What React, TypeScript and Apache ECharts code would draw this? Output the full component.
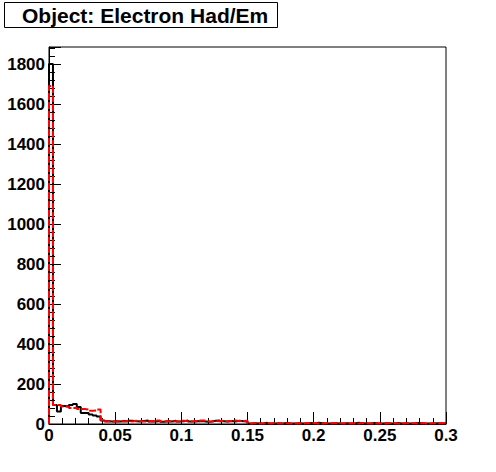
import React, { useEffect, useRef } from "react";
import * as echarts from "echarts";

const title = "Object: Electron Had/Em";
const xMin = 0;
const xMax = 0.3;
const binCount = 100;

const blackCounts = [
  1800, 95, 62, 90, 88, 95, 100, 85, 55, 55,
  48, 42, 38, 18, 14, 12, 14, 13, 15, 12,
  16, 14, 12, 15, 17, 13, 12, 15, 11, 14,
  13, 16, 12, 14, 17, 13, 12, 15, 14, 11,
  13, 16, 18, 14, 12, 15, 13, 16, 14, 12,
  3, 4, 2, 3, 6, 2, 3, 4, 2, 5,
  3, 2, 4, 3, 2, 5, 3, 6, 4, 2,
  3, 5, 2, 3, 4, 2, 3, 6, 4, 2,
  3, 5, 3, 2, 4, 3, 2, 5, 3, 4,
  2, 3, 5, 4, 2, 3, 2, 4, 3, 2,
];

const redCounts = [
  1690, 95, 95, 88, 86, 80, 80, 75, 75, 72,
  66, 68, 72, 20, 13, 11, 13, 14, 12, 15,
  13, 16, 14, 12, 14, 15, 13, 17, 12, 14,
  15, 13, 12, 16, 14, 13, 15, 12, 17, 14,
  13, 15, 14, 16, 13, 15, 17, 14, 15, 16,
  3, 4, 3, 2, 4, 3, 5, 3, 2, 4,
  3, 3, 4, 2, 5, 3, 4, 3, 2, 4,
  3, 5, 4, 3, 2, 4, 3, 3, 5, 4,
  3, 2, 4, 3, 3, 5, 4, 3, 2, 4,
  3, 4, 3, 5, 3, 2, 4, 3, 5, 3,
];

function stepPoints(counts: number[]) {
  const w = (xMax - xMin) / binCount;
  const pts: number[][] = [[xMin, 0]];
  counts.forEach((v, i) => {
    pts.push([xMin + i * w, v]);
    pts.push([xMin + (i + 1) * w, v]);
  });
  pts.push([xMax, 0]);
  return pts;
}

export default function App() {
  const ref = useRef<HTMLDivElement>(null);
  useEffect(() => {
    if (!ref.current) return;
    const chart = echarts.init(ref.current, undefined, { renderer: "svg" });
    const labelFont = {
      fontFamily: "Liberation Sans",
      fontWeight: "bold" as const,
      fontSize: 17,
      color: "#000",
    };
    chart.setOption({
      animation: false,
      backgroundColor: "#fff",
      grid: {
        left: 49,
        top: 47,
        width: 397,
        height: 377,
        show: true,
        borderColor: "#000",
        borderWidth: 1,
        backgroundColor: "transparent",
      },
      xAxis: {
        type: "value",
        min: xMin,
        max: xMax,
        interval: 0.05,
        axisLine: { show: true, lineStyle: { color: "#000", width: 1 } },
        axisTick: { show: true, inside: true, length: 12, lineStyle: { color: "#000" } },
        minorTick: { show: true, splitNumber: 5, length: 6, lineStyle: { color: "#000" } },
        splitLine: { show: false },
        axisLabel: {
          ...labelFont,
          margin: 3,
          formatter: (v: number) => String(parseFloat(v.toFixed(3))),
        },
      },
      yAxis: {
        type: "value",
        min: 0,
        max: 1885,
        interval: 200,
        axisLine: { show: true, lineStyle: { color: "#000", width: 1 } },
        axisTick: { show: true, inside: true, length: 12, lineStyle: { color: "#000" } },
        minorTick: { show: true, splitNumber: 5, length: 6, lineStyle: { color: "#000" } },
        splitLine: { show: false },
        axisLabel: {
          ...labelFont,
          margin: 4,
          showMaxLabel: false,
          formatter: (v: number) => (v % 200 === 0 ? String(v) : ""),
        },
      },
      series: [
        {
          type: "line",
          data: stepPoints(blackCounts),
          symbol: "none",
          lineStyle: { color: "#000", width: 2 },
          z: 2,
        },
        {
          type: "line",
          data: stepPoints(redCounts),
          symbol: "none",
          lineStyle: { color: "#ff0000", width: 2, type: [7, 2] },
          z: 3,
        },
      ],
      graphic: [
        {
          type: "rect",
          shape: { x: 4.5, y: 2.5, width: 273, height: 25 },
          style: { fill: "#fff", stroke: "#000", lineWidth: 1 },
        },
        {
          type: "text",
          x: 22,
          y: 15.5,
          style: {
            text: title,
            fontFamily: "Liberation Sans",
            fontWeight: "bold",
            fontSize: 21,
            fill: "#000",
            verticalAlign: "middle",
          },
        },
      ],
    });
    return () => chart.dispose();
  }, []);
  return (
    <div
      ref={ref}
      style={{ position: "fixed", left: 0, top: 0, width: 496, height: 472 }}
    />
  );
}
